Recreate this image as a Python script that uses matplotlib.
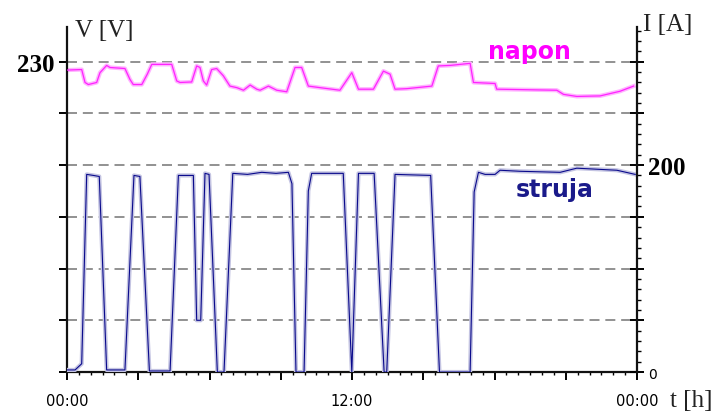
import matplotlib.pyplot as plt
import numpy as np

# vrijeme [h] i struja [A]
t_struja = [0.0, 0.34, 0.62, 0.83, 1.11, 1.36, 1.67, 2.44, 2.82, 3.07, 3.47, 4.34,
            4.69, 5.32, 5.46, 5.63, 5.81, 5.98, 6.33, 6.61, 6.98, 7.6, 8.2, 8.8,
            9.32, 9.47, 9.64, 9.98, 10.16, 10.30, 11.63, 11.99, 12.27, 12.93, 13.35,
            13.46, 13.81, 15.31, 15.68, 16.97, 17.14, 17.32, 17.60, 18.02, 18.23,
            19.07, 20.76, 21.46, 23.15, 23.92]
struja = [2, 2, 8, 191, 190, 189, 2, 2, 190, 189, 1, 1,
          190, 190, 50, 50, 192, 191, 0, 0, 192, 191, 193, 192,
          193, 182, 0, 0, 175, 192, 192, 0, 192, 192, 0,
          0, 191, 190, 0, 0, 174, 193, 191, 191, 195,
          194, 193, 197, 195, 191]

# vrijeme [h] i napon [V]
t_napon = [0.0, 0.62, 0.76, 0.90, 1.25, 1.39, 1.67, 1.81, 2.44, 2.65, 2.79, 3.15,
           3.38, 3.57, 4.41, 4.62, 4.76, 5.25, 5.46, 5.60, 5.74, 5.88, 6.09, 6.30,
           6.58, 6.86, 7.15, 7.43, 7.71, 7.99, 8.13, 8.48, 8.83, 9.25, 9.60, 9.88,
           10.16, 10.65, 11.49, 11.99, 12.27, 12.90, 13.32, 13.60, 13.81, 14.30,
           15.36, 15.63, 16.13, 16.97, 17.11, 18.02, 18.09, 20.62, 20.90, 21.46,
           22.44, 23.28, 23.85]
napon = [228.4, 228.5, 226.0, 225.6, 226.0, 227.9, 229.3, 228.9, 228.7, 226.6, 225.6, 225.6,
         227.6, 229.5, 229.5, 226.3, 226.0, 226.1, 229.2, 228.9, 226.3, 225.5, 228.5, 228.7,
         227.3, 225.3, 225.0, 224.5, 225.5, 224.7, 224.5, 225.3, 224.5, 224.2, 228.9, 228.9,
         225.3, 225.0, 224.5, 227.9, 224.7, 224.7, 228.2, 227.6, 224.7, 224.8,
         225.3, 229.2, 229.3, 229.7, 226.0, 225.8, 224.7, 224.5, 223.7, 223.3,
         223.4, 224.3, 225.3]

v_ticks = [170, 180, 190, 200, 210, 220, 230]
v_labels = ['', '', '', '', '', '', '230']
i_ticks = [0, 50, 100, 150, 200, 250, 300]
i_labels = ['0', '', '', '', '200', '', '']
t_ticks = [0, 3, 6, 9, 12, 15, 18, 21, 24]
t_labels = ['00:00', '', '', '', '12:00', '', '', '', '00:00']

fig = plt.figure(figsize=(7.24, 4.14), dpi=100)
ax = fig.add_axes([0.0925, 0.099, 0.7875, 0.833])
ax2 = ax.twinx()

ax.set_xlim(0, 24)
ax.set_ylim(170, 236.7)
ax2.set_ylim(0, 333.3)

# mreza
for v in v_ticks[1:]:
    ax.axhline(v, color='#7f7f7f', lw=1.2, ls=(0, (6, 3.5)), zorder=1)

# struja
ax2.plot(t_struja, struja, color='#c4c4e2', lw=3.0, solid_joinstyle='round', zorder=2)
ax2.plot(t_struja, struja, color='#0a0a8c', lw=0.8, zorder=3)
# napon
ax.plot(t_napon, napon, color='#ffb4ff', lw=3.0, solid_joinstyle='round', zorder=2)
ax.plot(t_napon, napon, color='#ff22ff', lw=0.9, zorder=3)

for a in (ax, ax2):
    a.spines['top'].set_visible(False)
    for s in a.spines.values():
        s.set_linewidth(1.6)
        s.set_color('#111111')
ax2.spines['left'].set_visible(False)
ax2.spines['bottom'].set_visible(False)
ax.spines['right'].set_visible(False)

ax.set_yticks(v_ticks)
ax.set_yticklabels(v_labels, fontfamily='Liberation Serif', fontweight='bold', fontsize=18)
ax.tick_params(axis='y', direction='out', length=6, width=1.4, pad=3)

ax2.set_yticks(i_ticks)
ax2.set_yticklabels(i_labels, fontfamily='Liberation Serif', fontweight='bold', fontsize=18)
ax2.set_yticks(np.arange(0, 334, 10), minor=True)
ax2.tick_params(axis='y', which='major', direction='inout', length=10, width=1.4, pad=3)
ax2.tick_params(axis='y', which='minor', direction='out', length=3, width=1)
lab0 = ax2.get_yticklabels()[0]
lab0.set_fontfamily('DejaVu Sans')
lab0.set_fontweight('normal')
lab0.set_fontsize(10)

ax.set_xticks(t_ticks)
ax.set_xticklabels(t_labels, fontfamily='DejaVu Sans', fontsize=10.5)
ax.set_xticks(np.arange(0, 24.01, 0.5), minor=True)
ax.tick_params(axis='x', which='major', direction='out', length=6, width=1.4, pad=9)
ax.tick_params(axis='x', which='minor', direction='out', length=2.5, width=1)

fig.text(0.104, 0.91, 'V [V]', fontfamily='Liberation Serif', fontsize=18, color='#222222')
fig.text(0.888, 0.925, 'I [A]', fontfamily='Liberation Serif', fontsize=18, color='#222222')
fig.text(0.925, 0.004, 't [h]', fontfamily='Liberation Serif', fontsize=18, color='#222222',
         va='bottom')

ax.text(0.812, 0.930, 'napon', transform=ax.transAxes, color='#ff00ff', fontsize=17,
        fontweight='bold', ha='center', va='center', fontfamily='DejaVu Sans')
ax.text(0.856, 0.530, 'struja', transform=ax.transAxes, color='#1a1a8a', fontsize=17,
        fontweight='bold', ha='center', va='center', fontfamily='DejaVu Sans')

fig.savefig('out.png', dpi=100)
